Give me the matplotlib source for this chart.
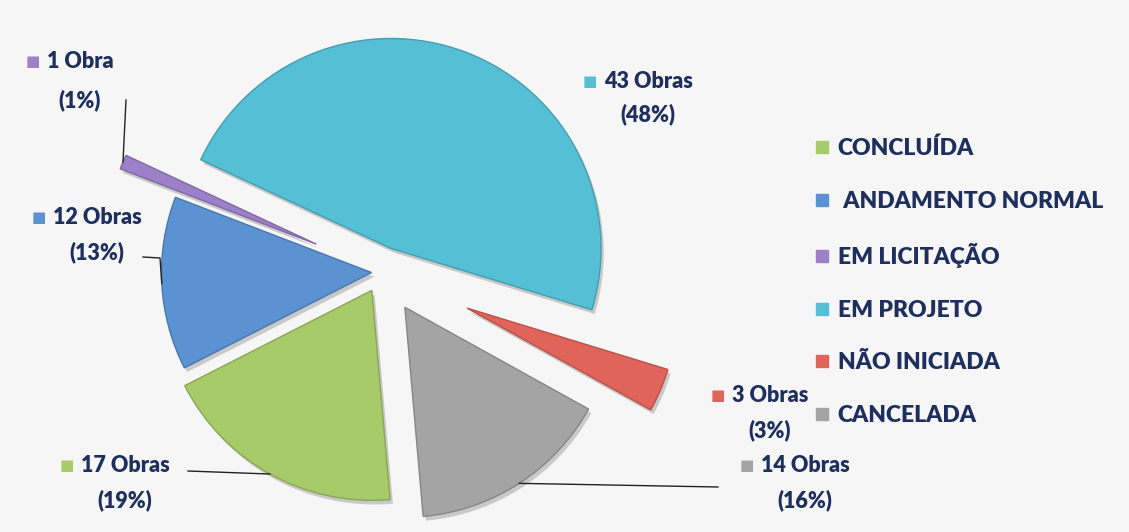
import numpy as np
import matplotlib.pyplot as plt
from matplotlib import patheffects as pe
from matplotlib.colors import to_rgb
from matplotlib.lines import Line2D

plt.rcParams['font.family'] = ['Lato', 'DejaVu Sans']

# dados
status = ['CONCLUÍDA', ' ANDAMENTO NORMAL', 'EM LICITAÇÃO', 'EM PROJETO',
          'NÃO INICIADA', 'CANCELADA']
obras = [17, 12, 1, 43, 3, 14]
pct = [19, 13, 1, 48, 3, 16]

colors = ['#a8cb6a', '#5a92d2', '#9c80c8', '#54bfd5', '#e0645a', '#a4a4a4']
explode = [0.10, 0.05, 0.34, 0.12, 0.44, 0.20]
navy = '#1e2f5e'

W, H = 1129, 532
CX, CY, R = 382, 272, 210   # centro / raio da pizza em pixels


def px(x, y):
    # pixel da imagem -> coordenadas do eixo (raio = 1)
    return (x - CX) / R, (CY - y) / R


fig = plt.figure(figsize=(W / 100, H / 100), dpi=100)
fig.patch.set_facecolor('#f6f6f6')
ax = fig.add_axes([0, 0, 1, 1])
ax.set_facecolor('#f6f6f6')

wedges, _ = ax.pie(obras, colors=colors, explode=explode, startangle=275,
                   counterclock=False, wedgeprops=dict(linewidth=1))
for w, c in zip(wedges, colors):
    w.set_edgecolor(np.array(to_rgb(c)) * 0.82)
    w.set_path_effects([pe.SimplePatchShadow(offset=(2, -3), shadow_rgbFace='k', alpha=0.18),
                        pe.Normal()])

x0, y0 = px(0, H)
x1, y1 = px(W, 0)
ax.set_aspect('auto')
ax.set_xlim(x0, x1)
ax.set_ylim(y0, y1)
ax.axis('off')

# rótulos de dados (centro do texto, linha 1 / linha 2)
label_pos = [(125, 465, 500), (97, 217, 252), (80, 62, 100),
             (648, 82, 114), (770, 395, 430), (805, 465, 500)]
tp = dict(color=navy, fontsize=15.5, fontweight='heavy', ha='center', va='center')
for i, (lx, ly1, ly2) in enumerate(label_pos):
    word = 'Obra' if obras[i] == 1 else 'Obras'
    t1 = ax.text(*px(lx, ly1), f'{obras[i]} {word}', **tp)
    ax.text(*px(lx, ly2), f'({pct[i]}%)', **tp)
    ax.annotate('■', xy=(0, 0.5), xycoords=t1, xytext=(-5, 0),
                textcoords='offset points', ha='right', va='center',
                color=colors[i], fontsize=11, family='DejaVu Sans')


def arc_point(w):
    th = np.deg2rad((w.theta1 + w.theta2) / 2)
    return w.center[0] + w.r * np.cos(th), w.center[1] + w.r * np.sin(th)


# linhas de chamada
leaders = {0: [(188, 471)], 1: [(143, 257), (160, 258)], 2: [(126, 100)],
           5: [(718, 487)]}
for i, pts in leaders.items():
    xs = [px(*p)[0] for p in pts]
    ys = [px(*p)[1] for p in pts]
    ex, ey = arc_point(wedges[i])
    ax.plot(xs + [ex], ys + [ey], color='#222222', lw=1)

handles = [Line2D([], [], marker='s', ls='', color=c, markersize=8) for c in colors]
ax.legend(handles, status, loc='upper left', bbox_to_anchor=(801 / W, 1 - 126 / H),
          frameon=False, handlelength=0.8, handletextpad=0.3, labelspacing=1.38,
          borderpad=0, labelcolor=navy,
          prop=dict(family='Lato', weight='heavy', size=16.5))

fig.savefig('out.png', dpi=100, facecolor=fig.get_facecolor())
